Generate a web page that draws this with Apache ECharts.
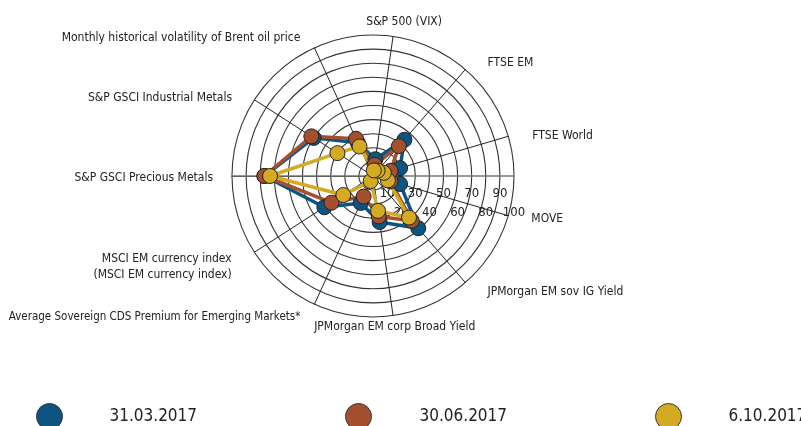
<!DOCTYPE html>
<html>
<head>
<meta charset="utf-8">
<script src="https://cdn.jsdelivr.net/npm/echarts@6/dist/echarts.min.js"></script>
<style>
  html, body { margin: 0; padding: 0; background: #fff; }
  #chart { width: 801px; height: 426px; }
</style>
</head>
<body>
<div id="chart"></div>
<script>
// indicators, counter-clockwise starting from the left (180 deg)
const indicators = [
    'S&P GSCI Precious Metals',
    'MSCI EM currency index\n(MSCI EM currency index)',
    'Average Sovereign CDS Premium for Emerging Markets*',
    'JPMorgan EM corp Broad Yield',
    'JPMorgan EM sov IG Yield',
    'MOVE',
    'FTSE World',
    'FTSE EM',
    'S&P 500 (VIX)',
    'Monthly historical volatility of Brent oil price',
    'S&P GSCI Industrial Metals'
];
const seriesNames = ['31.03.2017', '30.06.2017', '6.10.2017'];
const march = [77, 41, 21, 33, 49, 20, 20, 34, 12, 26, 50];
const june = [77, 35, 16, 29, 42, 13, 13, 28, 8, 29, 52];
const october = [73, 25, 4, 25, 39, 11, 8, 5, 4, 23, 30];
const colors = ['#0d5480', '#a4502f', '#d4aa22'];
const tickMax = 100;
const tickStep = 10;

// per-indicator name placement (gap from the ring, alignment, padding)
const nameLayout = [
    { gap: 19, pad: [0, 0, 0, 0], va: 'top', lh: 4 },
    { gap: 27, pad: [4, 0, 0, 0] },
    { gap: 17, pad: [0, 7, 0, 0], va: 'bottom', lh: 6, size: 11.5 },
    { gap: 11.5, align: 'center', pad: [0, 0, 0, 0] },
    { gap: 17, pad: [0, 0, 0, 11], va: 'bottom', lh: 8 },
    { gap: 24, pad: [0, 0, 0, 0], va: 'bottom', lh: 8 },
    { gap: 25, pad: [0, 0, 0, 0], va: 'top', lh: 14 },
    { gap: 17, pad: [0, 0, 0, 11], va: 'top', lh: 12 },
    { gap: 14.5, align: 'center', pad: [0, 0, 0, 18] },
    { gap: 17, pad: [0, 7, 0, 0], va: 'top', lh: 12 },
    { gap: 17, pad: [0, 8, 0, 0], va: 'top', lh: 14 }
];

const font = "'DejaVu Sans Condensed', sans-serif";
const allValues = [march, june, october];

const chart = echarts.init(document.getElementById('chart'));

const option = {
    animation: false,
    radar: {
        center: [373, 176],
        radius: 141,
        startAngle: 180,
        shape: 'circle',
        splitNumber: 10,
        nameGap: 17,
        indicator: indicators.map((n, i) => {
            const l = nameLayout[i];
            const ind = { name: n, min: 0, max: tickMax, nameGap: l.gap,
                nameTextStyle: { padding: l.pad } };
            if (l.align) ind.nameTextStyle.align = l.align;
            if (l.size) ind.nameTextStyle.fontSize = l.size;
            if (l.va) {
                ind.nameTextStyle.verticalAlign = l.va;
                ind.nameTextStyle.lineHeight = l.lh;
            }
            return ind;
        }),
        axisName: { color: '#222', fontFamily: font, fontSize: 12, lineHeight: 16 },
        splitLine: { lineStyle: { color: '#333', width: 1.1 } },
        splitArea: { show: false },
        axisLine: { lineStyle: { color: '#222', width: 1 } },
        axisTick: { show: false },
        axisLabel: { show: false }
    },
    // value labels along the right side, staggered on two rows
    grid: { left: 232, width: 282, top: 175, height: 1 },
    yAxis: { type: 'value', show: false },
    xAxis: [
        {
            type: 'value', min: -tickMax, max: tickMax, interval: tickStep,
            position: 'bottom',
            splitLine: { show: false },
            axisTick: { show: false },
            axisLine: { lineStyle: { color: '#777', width: 1.5 } },
            axisLabel: {
                margin: 11, color: '#222', fontFamily: font, fontSize: 13,
                formatter: v => (v > 0 && v % 20 === 10) ? String(v) : ''
            }
        },
        {
            type: 'value', min: -tickMax, max: tickMax, interval: tickStep,
            position: 'bottom', offset: 19,
            splitLine: { show: false },
            axisTick: { show: false },
            axisLine: { show: false },
            axisLabel: {
                margin: 11, color: '#222', fontFamily: font, fontSize: 13,
                formatter: v => (v > 0 && v % 20 === 0) ? String(v) : ''
            }
        }
    ],
    legend: seriesNames.map((name, i) => ({
        data: [name],
        left: [36, 345, 655][i],
        top: 403,
        padding: 0,
        itemWidth: 26,
        itemHeight: 26,
        icon: 'circle',
        itemStyle: { borderColor: '#333', borderWidth: 1 },
        textStyle: { fontFamily: font, fontSize: 17, color: '#222', padding: [2, 0, 0, [42, 43, 42][i]] }
    })),
    series: seriesNames.map((name, i) => ({
        type: 'radar',
        name: name,
        symbol: 'circle',
        symbolSize: 15,
        itemStyle: { color: colors[i], borderColor: '#222', borderWidth: 1 },
        lineStyle: { color: colors[i], width: 3.5 },
        data: [{ name: name, value: allValues[i] }]
    }))
};

chart.setOption(option);
</script>
</body>
</html>
